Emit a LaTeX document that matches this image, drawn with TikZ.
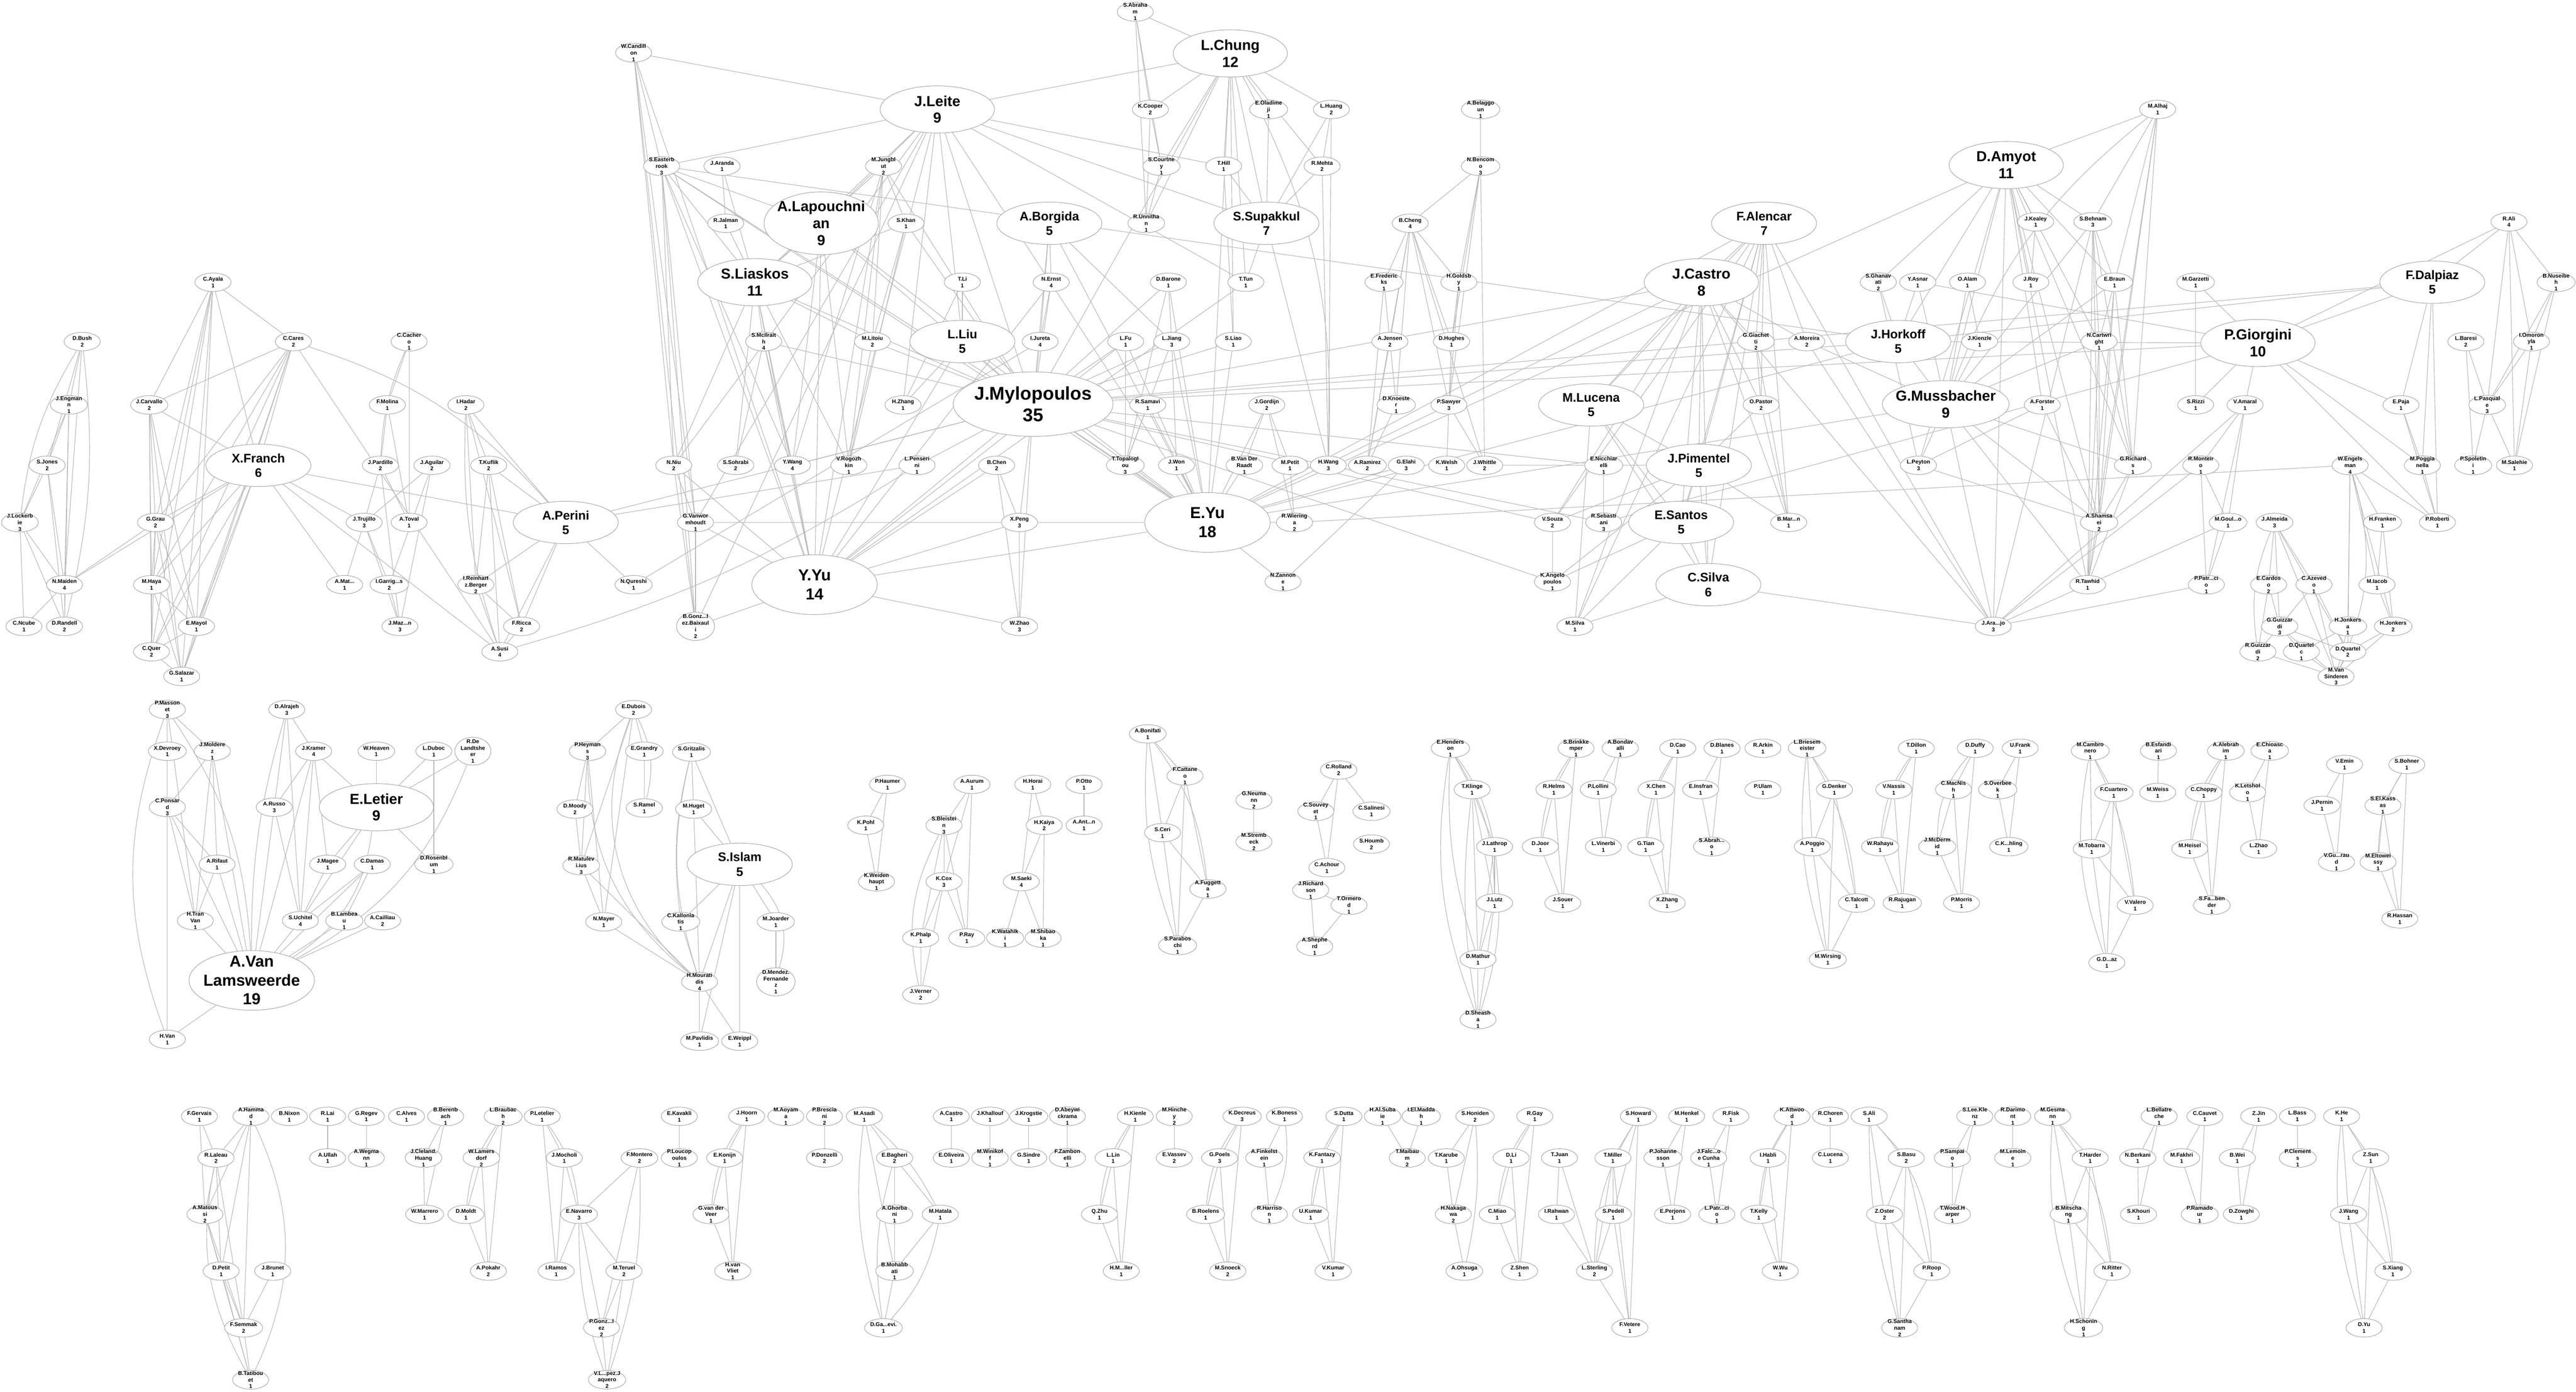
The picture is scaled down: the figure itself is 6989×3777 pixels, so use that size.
\documentclass[tikz,border=0pt]{standalone}
\usepackage{fontspec}
\setmainfont{Liberation Sans}
\usetikzlibrary{shapes.geometric,backgrounds}
\newcommand\nfsmall{\fontsize{4.25pt}{5.1pt}\selectfont\bfseries}
\newcommand\nfbiga{\fontsize{9.6pt}{11.2pt}\selectfont\bfseries}
\newcommand\nfbigb{\fontsize{11.2pt}{13pt}\selectfont\bfseries}
\newcommand\nfbigc{\fontsize{12.3pt}{14.5pt}\selectfont\bfseries}
\newcommand\nfbigd{\fontsize{14.2pt}{17pt}\selectfont\bfseries}
\tikzset{
  sm/.style={ellipse, draw=gray!70, fill=white, line width=0.4pt, align=center, font=\nfsmall,
    inner xsep=0pt, inner ysep=-1.5pt, minimum width=0.98cm, minimum height=0.5cm},
  bga/.style={sm, font=\nfbiga, inner xsep=-4pt, inner ysep=-3pt, minimum width=2.85cm, minimum height=1.15cm},
  bgb/.style={sm, font=\nfbigb, inner xsep=-4pt, inner ysep=-3pt, minimum width=3.1cm, minimum height=1.28cm},
  bgc/.style={sm, font=\nfbigc, inner xsep=-4pt, inner ysep=-3pt, minimum width=3.4cm, minimum height=1.62cm},
  bgd/.style={sm, font=\nfbigd, inner xsep=-4pt, inner ysep=-3pt, minimum width=4.33cm, minimum height=1.75cm},
  every edge/.style={draw, gray!55, line width=0.45pt}
}
\begin{document}
\begin{tikzpicture}[x=0.01cm,y=-0.01cm]
  \useasboundingbox (0,0) rectangle (6989,3777);
  % ---- main component, left part
  \node[sm] (cayala) at (578,766) {C.Ayala\\1};
  \node[sm] (dbush) at (223,927) {D.Bush\\2};
  \node[sm] (ccares) at (796,927) {C.Cares\\2};
  \node[sm] (ccachero) at (1110,927) {C.Cacher\\o\\1};
  \node[sm] (jengmann) at (187,1099) {J.Engman\\n\\1};
  \node[sm] (jcarvallo) at (405,1099) {J.Carvallo\\2};
  \node[sm] (fmolina) at (1051,1099) {F.Molina\\1};
  \node[sm] (ihadar) at (1264,1099) {I.Hadar\\2};
  \node[bga] (xfranch) at (701,1263) {X.Franch\\6};
  \node[sm] (sjones) at (128,1263) {S.Jones\\2};
  \node[sm] (jpardillo) at (1032,1263) {J.Pardillo\\2};
  \node[sm] (jaguilar) at (1172,1263) {J.Aguilar\\2};
  \node[sm] (tkuflik) at (1326,1263) {T.Kuflik\\2};
  \node[sm] (jlockerbie) at (54,1418) {J.Lockerb\\ie\\3};
  \node[sm] (ggrau) at (422,1418) {G.Grau\\2};
  \node[sm] (jtrujillo) at (988,1418) {J.Trujillo\\3};
  \node[sm] (atoval) at (1110,1418) {A.Toval\\1};
  \node[bga] (aperini) at (1535,1418) {A.Perini\\5};
  \node[sm] (nmaiden) at (175,1587) {N.Maiden\\4};
  \node[sm] (mhaya) at (411,1587) {M.Haya\\1};
  \node[sm] (amat) at (935,1587) {A.Mat...\\1};
  \node[sm] (igarrigos) at (1056,1587) {I.Garrig...s\\2};
  \node[sm] (ireinhartz) at (1291,1587) {I.Reinhart\\z.Berger\\2};
  \node[sm] (cncube) at (65,1700) {C.Ncube\\1};
  \node[sm] (drandell) at (175,1700) {D.Randell\\2};
  \node[sm] (emayol) at (533,1700) {E.Mayol\\1};
  \node[sm] (jmazon) at (1085,1700) {J.Maz...n\\3};
  \node[sm] (fricca) at (1415,1700) {F.Ricca\\2};
  \node[sm] (cquer) at (411,1769) {C.Quer\\2};
  \node[sm] (asusi) at (1356,1769) {A.Susi\\4};
  \node[sm] (gsalazar) at (493,1836) {G.Salazar\\1};
  % ---- main component, centre
  \node[sm] (wcandillon) at (1719,143) {W.Candill\\on\\1};
  \node[sm] (sabraham) at (3080,32) {S.Abraha\\m\\1};
  \node[bgb] (lchung) at (3338,145) {L.Chung\\12};
  \node[bgb] (jleite) at (2543,297) {J.Leite\\9};
  \node[sm] (kcooper) at (3121,297) {K.Cooper\\2};
  \node[sm] (eoladimeji) at (3442,297) {E.Oladime\\ji\\1};
  \node[sm] (seasterbrook) at (1795,451) {S.Easterb\\rook\\3};
  \node[sm] (jaranda) at (1959,451) {J.Aranda\\1};
  \node[sm] (mjungblut) at (2397,451) {M.Jungbl\\ut\\2};
  \node[sm] (scourtney) at (3151,451) {S.Courtne\\y\\1};
  \node[sm] (thill) at (3320,451) {T.Hill\\1};
  \node[bgb, minimum height=1.7cm] (alapouchnian) at (2228,606) {A.Lapouchni\\an\\9};
  \node[sm] (rjalman) at (1969,606) {R.Jalman\\1};
  \node[sm] (skhan) at (2458,606) {S.Khan\\1};
  \node[bga] (aborgida) at (2847,606) {A.Borgida\\5};
  \node[sm] (runnithan) at (3110,606) {R.Unnitha\\n\\1};
  \node[bga] (ssupakkul) at (3436,606) {S.Supakkul\\7};
  \node[bgb] (sliaskos) at (2048,766) {S.Liaskos\\11};
  \node[sm] (tli) at (2611,766) {T.Li\\1};
  \node[sm] (nernst) at (2852,766) {N.Ernst\\4};
  \node[sm] (dbarone) at (3170,766) {D.Barone\\1};
  \node[sm] (ttun) at (3380,766) {T.Tun\\1};
  \node[sm] (smcilraith) at (2072,927) {S.McIlrait\\h\\4};
  \node[sm] (mlitoiu) at (2367,927) {M.Litoiu\\2};
  \node[bga] (lliu) at (2611,927) {L.Liu\\5};
  \node[sm] (ijureta) at (2822,927) {I.Jureta\\4};
  \node[sm] (lfu) at (3054,927) {L.Fu\\1};
  \node[sm] (ljiang) at (3179,927) {L.Jiang\\3};
  \node[sm] (sliao) at (3346,927) {S.Liao\\1};
  \node[bgd] (jmylopoulos) at (2803,1097) {J.Mylopoulos\\35};
  \node[sm] (hzhang) at (2450,1099) {H.Zhang\\1};
  \node[sm] (rsamavi) at (3114,1099) {R.Samavi\\1};
  \node[sm] (jgordijn) at (3437,1099) {J.Gordijn\\2};
  \node[sm] (nniu) at (1828,1263) {N.Niu\\2};
  \node[sm] (ssohrabi) at (1996,1263) {S.Sohrabi\\2};
  \node[sm] (ywang) at (2150,1263) {Y.Wang\\4};
  \node[sm] (vrogozhkin) at (2303,1263) {V.Rogozh\\kin\\1};
  \node[sm] (lpenserini) at (2488,1263) {L.Penseri\\ni\\1};
  \node[sm] (bchen) at (2704,1263) {B.Chen\\2};
  \node[sm] (ttopaloglou) at (3053,1263) {T.Topalogl\\ou\\3};
  \node[sm] (jwon) at (3192,1263) {J.Won\\1};
  \node[sm] (bvanderraadt) at (3376,1263) {B.Van Der\\Raadt\\1};
  \node[sm] (gvanwormhoudt) at (1887,1418) {G.Vanwor\\mhoudt\\1};
  \node[sm] (xpeng) at (2766,1418) {X.Peng\\3};
  \node[bgc] (eyu) at (3276,1418) {E.Yu\\18};
  \node[sm] (nqureshi) at (1719,1587) {N.Qureshi\\1};
  \node[bgc] (yyu) at (2210,1587) {Y.Yu\\14};
  \node[sm] (bgonzalez) at (1887,1700) {B.Gonz...l\\ez.Baixaul\\i\\2};
  \node[sm] (wzhao) at (2766,1700) {W.Zhao\\3};
  % ---- main component, right of centre
  \node[sm] (lhuang) at (3612,297) {L.Huang\\2};
  \node[sm] (abelaggoun) at (4017,297) {A.Belaggo\\un\\1};
  \node[sm] (rmehta) at (3587,451) {R.Mehta\\2};
  \node[sm] (nbencomo) at (4017,451) {N.Bencom\\o\\3};
  \node[sm] (bcheng) at (3826,606) {B.Cheng\\4};
  \node[bga] (falencar) at (4786,606) {F.Alencar\\7};
  \node[sm] (efredericks) at (3755,766) {E.Frederic\\ks\\1};
  \node[sm] (hgoldsby) at (3958,766) {H.Goldsb\\y\\1};
  \node[bgb] (jcastro) at (4616,766) {J.Castro\\8};
  \node[sm] (sghanavati) at (5096,766) {S.Ghanav\\ati\\2};
  \node[sm] (ajensen) at (3771,927) {A.Jensen\\2};
  \node[sm] (dhughes) at (3938,927) {D.Hughes\\1};
  \node[sm] (ggiachetti) at (4764,927) {G.Giachet\\ti\\2};
  \node[sm] (amoreira) at (4902,927) {A.Moreira\\2};
  \node[bga] (jhorkoff) at (5150,927) {J.Horkoff\\5};
  \node[sm] (dknoester) at (3788,1099) {D.Knoeste\\r\\1};
  \node[sm] (psawyer) at (3931,1099) {P.Sawyer\\3};
  \node[bga] (mlucena) at (4317,1099) {M.Lucena\\5};
  \node[sm] (opastor) at (4778,1099) {O.Pastor\\2};
  \node[bgb] (gmussbacher) at (5279,1097) {G.Mussbacher\\9};
  \node[sm] (mpetit) at (3500,1263) {M.Petit\\1};
  \node[sm] (hwang) at (3604,1263) {H.Wang\\3};
  \node[sm] (aramirez) at (3710,1263) {A.Ramirez\\2};
  \node[sm] (gelahi) at (3815,1263) {G.Elahi\\3};
  \node[sm] (kwelsh) at (3925,1263) {K.Welsh\\1};
  \node[sm] (jwhittle) at (4028,1263) {J.Whittle\\2};
  \node[sm] (enicchiarelli) at (4351,1263) {E.Nicchiar\\elli\\1};
  \node[bga] (jpimentel) at (4609,1263) {J.Pimentel\\5};
  \node[sm] (rwieringa) at (3512,1418) {R.Wiering\\a\\2};
  \node[sm] (vsouza) at (4212,1418) {V.Souza\\2};
  \node[sm] (rsebastiani) at (4351,1418) {R.Sebasti\\ani\\3};
  \node[bga] (esantos) at (4561,1418) {E.Santos\\5};
  \node[sm] (bmarin) at (4853,1418) {B.Mar...n\\1};
  \node[sm] (nzannone) at (3481,1579) {N.Zannon\\e\\1};
  \node[sm] (kangelopoulos) at (4212,1579) {K.Angelo\\poulos\\1};
  \node[bga] (csilva) at (4635,1587) {C.Silva\\6};
  \node[sm] (msilva) at (4273,1700) {M.Silva\\1};
  % ---- main component, right part
  \node[sm] (malhaj) at (5854,297) {M.Alhaj\\1};
  \node[bgb] (damyot) at (5443,448) {D.Amyot\\11};
  \node[sm] (rali) at (6807,602) {R.Ali\\4};
  \node[sm] (jkealey) at (5523,602) {J.Kealey\\1};
  \node[sm] (sbehnam) at (5678,602) {S.Behnam\\3};
  \node[sm] (yasnar) at (5203,766) {Y.Asnar\\1};
  \node[sm] (oalam) at (5338,766) {O.Alam\\1};
  \node[sm] (jroy) at (5510,766) {J.Roy\\1};
  \node[sm] (ebraun) at (5737,766) {E.Braun\\1};
  \node[sm] (mgarzetti) at (5957,766) {M.Garzetti\\1};
  \node[bga] (fdalpiaz) at (6599,766) {F.Dalpiaz\\5};
  \node[sm] (bnuseibeh) at (6935,766) {B.Nuseibe\\h\\1};
  \node[sm] (jkienzle) at (5371,927) {J.Kienzle\\1};
  \node[sm] (ncartwright) at (5695,927) {N.Cartwri\\ght\\1};
  \node[bgb] (pgiorgini) at (6126,931) {P.Giorgini\\10};
  \node[sm] (lbaresi) at (6690,927) {L.Baresi\\2};
  \node[sm] (iomoronyla) at (6868,927) {I.Omoron\\yla\\1};
  \node[sm] (aforster) at (5541,1099) {A.Forster\\1};
  \node[sm] (srizzi) at (5957,1099) {S.Rizzi\\1};
  \node[sm] (vamaral) at (6091,1099) {V.Amaral\\1};
  \node[sm] (epaja) at (6514,1099) {E.Paja\\1};
  \node[sm] (lpasquale) at (6748,1099) {L.Pasqual\\e\\3};
  \node[sm] (lpeyton) at (5205,1263) {L.Peyton\\3};
  \node[sm] (grichards) at (5787,1263) {G.Richard\\s\\1};
  \node[sm] (rmonteiro) at (5971,1263) {R.Monteir\\o\\1};
  \node[sm] (wengelsman) at (6376,1263) {W.Engels\\man\\4};
  \node[sm] (mpoggianella) at (6572,1263) {M.Poggia\\nella\\1};
  \node[sm] (pspoletini) at (6710,1263) {P.Spoletin\\i\\1};
  \node[sm] (msalehie) at (6822,1263) {M.Salehie\\1};
  \node[sm] (ashamsaei) at (5695,1418) {A.Shamsa\\ei\\2};
  \node[sm] (mgoulao) at (6045,1418) {M.Goul...o\\1};
  \node[sm] (jalmeida) at (6171,1418) {J.Almeida\\3};
  \node[sm] (hfranken) at (6464,1418) {H.Franken\\1};
  \node[sm] (proberti) at (6613,1418) {P.Roberti\\1};
  \node[sm] (rtawhid) at (5664,1587) {R.Tawhid\\1};
  \node[sm] (ppatricio) at (5986,1587) {P.Patr...ci\\o\\1};
  \node[sm] (ecardoso) at (6155,1587) {E.Cardos\\o\\2};
  \node[sm] (cazevedo) at (6278,1587) {C.Azeved\\o\\1};
  \node[sm] (miacob) at (6449,1587) {M.Iacob\\1};
  \node[sm] (jaraujo) at (5408,1700) {J.Ara...jo\\3};
  \node[sm] (gguizzardi) at (6185,1700) {G.Guizzar\\di\\3};
  \node[sm] (hjonkersa) at (6370,1700) {H.Jonkers\\a\\1};
  \node[sm] (hjonkers) at (6493,1700) {H.Jonkers\\2};
  \node[sm] (rguizzardi) at (6126,1769) {R.Guizzar\\di\\2};
  \node[sm] (dquartelc) at (6244,1769) {D.Quartel\\c\\1};
  \node[sm] (dquartel) at (6370,1769) {D.Quartel\\2};
  \node[sm] (mvansinderen) at (6338,1836) {M.Van\\Sinderen\\3};
  % ---- middle band
  \node[sm] (pmassonet) at (454,1926) {P.Masson\\et\\3};
  \node[sm] (dalrajeh) at (778,1926) {D.Alrajeh\\3};
  \node[sm] (edubois) at (1719,1926) {E.Dubois\\2};
  \node[sm] (xdevroey) at (454,2039) {X.Devroey\\1};
  \node[sm] (jmolderez) at (576,2039) {J.Moldere\\z\\1};
  \node[sm] (jkramer) at (851,2039) {J.Kramer\\4};
  \node[sm] (wheaven) at (1021,2039) {W.Heaven\\1};
  \node[sm] (lduboc) at (1177,2039) {L.Duboc\\1};
  \node[sm] (rdelandtsheer) at (1283,2039) {R.De\\Landtshe\\er\\1};
  \node[sm] (pheymans) at (1594,2039) {P.Heyman\\s\\3};
  \node[sm] (egrandry) at (1748,2039) {E.Grandry\\1};
  \node[sm] (cponsard) at (454,2191) {C.Ponsar\\d\\3};
  \node[sm] (arusso) at (744,2191) {A.Russo\\3};
  \node[bgb] (eletier) at (1021,2191) {E.Letier\\9};
  \node[sm] (dmoody) at (1560,2196) {D.Moody\\2};
  \node[sm] (sramel) at (1748,2193) {S.Ramel\\1};
  \node[sm] (arifaut) at (589,2346) {A.Rifaut\\1};
  \node[sm] (jmagee) at (889,2346) {J.Magee\\1};
  \node[sm] (cdamas) at (1010,2346) {C.Damas\\1};
  \node[sm] (drosenblum) at (1177,2346) {D.Rosenbl\\um\\1};
  \node[sm] (rmatulevicius) at (1577,2349) {R.Matulev\\i.ius\\3};
  \node[sm] (htranvan) at (530,2499) {H.Tran\\Van\\1};
  \node[sm] (suchitel) at (815,2499) {S.Uchitel\\4};
  \node[sm] (blambeau) at (934,2499) {B.Lambea\\u\\1};
  \node[sm] (acailliau) at (1038,2499) {A.Cailliau\\2};
  \node[sm] (nmayer) at (1638,2502) {N.Mayer\\1};
  \node[bgc] (avanlamsweerde) at (683,2661) {A.Van\\Lamsweerde\\19};
  \node[sm] (hvan) at (454,2821) {H.Van\\1};
  \node[sm] (sgritzalis) at (1876,2041) {S.Gritzalis\\1};
  \node[sm] (mhuget) at (1882,2196) {M.Huget\\1};
  \node[bga] (sislam) at (2007,2346) {S.Islam\\5};
  \node[sm] (ckalloniatis) at (1847,2502) {C.Kallonia\\tis\\1};
  \node[sm] (mjoarder) at (2105,2502) {M.Joarder\\1};
  \node[sm] (hmouratidis) at (1898,2665) {H.Mourati\\dis\\4};
  \node[sm] (dmendez) at (2105,2665) {D.Mendez.\\Fernande\\z\\1};
  \node[sm] (mpavlidis) at (1898,2826) {M.Pavlidis\\1};
  \node[sm] (eweippl) at (2007,2826) {E.Weippl\\1};
  \node[sm] (phaumer) at (2408,2129) {P.Haumer\\1};
  \node[sm] (aaurum) at (2637,2129) {A.Aurum\\1};
  \node[sm] (hhorai) at (2802,2129) {H.Horai\\1};
  \node[sm] (potto) at (2941,2129) {P.Otto\\1};
  \node[sm] (kpohl) at (2349,2240) {K.Pohl\\1};
  \node[sm] (sbleistein) at (2561,2240) {S.Bleistei\\n\\3};
  \node[sm] (hkaiya) at (2833,2240) {H.Kaiya\\2};
  \node[sm] (aantn) at (2941,2240) {A.Ant...n\\1};
  \node[sm] (kweidenhaupt) at (2378,2393) {K.Weiden\\haupt\\1};
  \node[sm] (kcox) at (2561,2393) {K.Cox\\3};
  \node[sm] (msaeki) at (2771,2393) {M.Saeki\\4};
  \node[sm] (kphalp) at (2498,2546) {K.Phalp\\1};
  \node[sm] (pray) at (2623,2546) {P.Ray\\1};
  \node[sm] (kwatahiki) at (2727,2546) {K.Watahik\\i\\1};
  \node[sm] (mshibaoka) at (2830,2546) {M.Shibao\\ka\\1};
  \node[sm] (jverner) at (2498,2700) {J.Verner\\2};
  \node[sm] (abonifati) at (3114,1992) {A.Bonifati\\1};
  \node[sm] (fcattaneo) at (3215,2106) {F.Cattane\\o\\1};
  \node[sm] (gneumann) at (3402,2172) {G.Neuma\\nn\\2};
  \node[sm] (sceri) at (3154,2260) {S.Ceri\\1};
  \node[sm] (mstrembeck) at (3402,2285) {M.Stremb\\eck\\2};
  \node[sm] (afuggetta) at (3277,2413) {A.Fuggett\\a\\1};
  \node[sm] (sparaboschi) at (3195,2566) {S.Parabos\\chi\\1};
  \node[sm] (crolland) at (3632,2090) {C.Rolland\\2};
  \node[sm] (csouveyet) at (3570,2202) {C.Souvey\\et\\1};
  \node[sm] (csalinesi) at (3721,2202) {C.Salinesi\\1};
  \node[sm] (shoumb) at (3721,2291) {S.Houmb\\2};
  \node[sm] (cachour) at (3600,2355) {C.Achour\\1};
  \node[sm] (jrichardson) at (3556,2416) {J.Richard\\son\\1};
  \node[sm] (tormerod) at (3660,2457) {T.Ormero\\d\\1};
  \node[sm] (ashepherd) at (3567,2569) {A.Shephe\\rd\\1};
  \node[sm] (ehenderson) at (3935,2031) {E.Henders\\on\\1};
  \node[sm] (tklinge) at (3994,2143) {T.Klinge\\1};
  \node[sm] (jlathrop) at (4055,2298) {J.Lathrop\\1};
  \node[sm] (jlutz) at (4055,2451) {J.Lutz\\1};
  \node[sm] (dmathur) at (4010,2604) {D.Mathur\\1};
  \node[sm] (dsheasha) at (4010,2767) {D.Sheash\\a\\1};
  \node[sm] (sbrinkkemper) at (4276,2031) {S.Brinkke\\mper\\1};
  \node[sm] (abondavalli) at (4396,2031) {A.Bondav\\alli\\1};
  \node[sm] (dcao) at (4552,2031) {D.Cao\\1};
  \node[sm] (dblanes) at (4672,2031) {D.Blanes\\1};
  \node[sm] (rarkin) at (4783,2031) {R.Arkin\\1};
  \node[sm] (lbriesemeister) at (4903,2031) {L.Briesem\\eister\\1};
  \node[sm] (tdillon) at (5199,2031) {T.Dillon\\1};
  \node[sm] (rhelms) at (4216,2143) {R.Helms\\1};
  \node[sm] (plollini) at (4336,2143) {P.Lollini\\1};
  \node[sm] (xchen) at (4493,2143) {X.Chen\\1};
  \node[sm] (einsfran) at (4614,2143) {E.Insfran\\1};
  \node[sm] (pulam) at (4783,2143) {P.Ulam\\1};
  \node[sm] (gdenker) at (4977,2143) {G.Denker\\1};
  \node[sm] (vnassis) at (5138,2143) {V.Nassis\\1};
  \node[sm] (djoor) at (4179,2298) {D.Joor\\1};
  \node[sm] (lvinerbi) at (4350,2298) {L.Vinerbi\\1};
  \node[sm] (gtian) at (4465,2298) {G.Tian\\1};
  \node[sm] (sabraho) at (4644,2298) {S.Abrah...\\o\\1};
  \node[sm] (apoggio) at (4917,2298) {A.Poggio\\1};
  \node[sm] (wrahayu) at (5101,2298) {W.Rahayu\\1};
  \node[sm] (jsouer) at (4240,2451) {J.Souer\\1};
  \node[sm] (xzhang) at (4523,2451) {X.Zhang\\1};
  \node[sm] (ctalcott) at (5037,2451) {C.Talcott\\1};
  \node[sm] (rrajugan) at (5161,2451) {R.Rajugan\\1};
  \node[sm] (mwirsing) at (4959,2604) {M.Wirsing\\1};
  \node[sm] (dduffy) at (5359,2031) {D.Duffy\\1};
  \node[sm] (ufrank) at (5481,2031) {U.Frank\\1};
  \node[sm] (mcambronero) at (5671,2038) {M.Cambro\\nero\\1};
  \node[sm] (besfandiari) at (5856,2038) {B.Esfandi\\ari\\1};
  \node[sm] (aalebrahim) at (6039,2038) {A.Alebrah\\im\\1};
  \node[sm] (echioasca) at (6158,2038) {E.Chioasc\\a\\1};
  \node[sm] (vemin) at (6361,2075) {V.Emin\\1};
  \node[sm] (sbohner) at (6530,2075) {S.Bohner\\1};
  \node[sm] (cmacnish) at (5300,2143) {C.MacNis\\h\\1};
  \node[sm] (soverbeek) at (5420,2143) {S.Overbee\\k\\1};
  \node[sm] (fcuartero) at (5735,2151) {F.Cuartero\\1};
  \node[sm] (mweiss) at (5854,2151) {M.Weiss\\1};
  \node[sm] (cchoppy) at (5979,2151) {C.Choppy\\1};
  \node[sm] (kletsholo) at (6098,2151) {K.Letshol\\o\\1};
  \node[sm] (jpernin) at (6300,2186) {J.Pernin\\1};
  \node[sm] (selkassas) at (6465,2186) {S.El.Kass\\as\\1};
  \node[sm] (jmcdermid) at (5256,2298) {J.McDerm\\id\\1};
  \node[sm] (ckuhling) at (5450,2298) {C.K...hling\\1};
  \node[sm] (mtobarra) at (5675,2304) {M.Tobarra\\1};
  \node[sm] (mheisel) at (5941,2304) {M.Heisel\\1};
  \node[sm] (lzhao) at (6128,2304) {L.Zhao\\1};
  \node[sm] (vguiraud) at (6339,2340) {V.Gu...rau\\d\\1};
  \node[sm] (meltoweissy) at (6452,2340) {M.Eltowei\\ssy\\1};
  \node[sm] (pmorris) at (5322,2451) {P.Morris\\1};
  \node[sm] (vvalero) at (5793,2457) {V.Valero\\1};
  \node[sm] (sfassbender) at (6001,2457) {S.Fa...ben\\der\\1};
  \node[sm] (rhassan) at (6511,2494) {R.Hassan\\1};
  \node[sm] (gdiaz) at (5716,2613) {G.D...az\\1};
  % ---- bottom band
  \node[sm] (fgervais) at (541,3030) {F.Gervais\\1};
  \node[sm] (ahammad) at (681,3030) {A.Hamma\\d\\1};
  \node[sm] (bnixon) at (785,3030) {B.Nixon\\1};
  \node[sm] (rlai) at (889,3030) {R.Lai\\1};
  \node[sm] (gregev) at (994,3030) {G.Regev\\1};
  \node[sm] (calves) at (1103,3030) {C.Alves\\1};
  \node[sm] (bberenbach) at (1209,3030) {B.Berenb\\ach\\1};
  \node[sm] (lbraubach) at (1365,3030) {L.Braubac\\h\\2};
  \node[sm] (pletelier) at (1471,3030) {P.Letelier\\1};
  \node[sm] (rlaleau) at (586,3143) {R.Laleau\\2};
  \node[sm] (aullah) at (889,3143) {A.Ullah\\1};
  \node[sm] (awegmann) at (994,3143) {A.Wegma\\nn\\1};
  \node[sm] (jclelandhuang) at (1149,3143) {J.Cleland.\\Huang\\1};
  \node[sm] (wlamersdorf) at (1306,3143) {W.Lamers\\dorf\\2};
  \node[sm] (jmocholi) at (1531,3143) {J.Mocholi\\1};
  \node[sm] (fmontero) at (1735,3143) {F.Montero\\2};
  \node[sm] (amatoussi) at (556,3296) {A.Matous\\si\\2};
  \node[sm] (wmarrero) at (1152,3296) {W.Marrero\\1};
  \node[sm] (dmoldt) at (1264,3296) {D.Moldt\\1};
  \node[sm] (enavarro) at (1571,3296) {E.Navarro\\3};
  \node[sm] (dpetit) at (600,3450) {D.Petit\\1};
  \node[sm] (jbrunet) at (740,3450) {J.Brunet\\1};
  \node[sm] (apokahr) at (1325,3450) {A.Pokahr\\2};
  \node[sm] (iramos) at (1509,3450) {I.Ramos\\1};
  \node[sm] (mteruel) at (1693,3450) {M.Teruel\\2};
  \node[sm] (fsemmak) at (661,3604) {F.Semmak\\2};
  \node[sm] (pgonzalez) at (1632,3604) {P.Gonz...l\\ez\\2};
  \node[sm] (btatibouet) at (680,3745) {B.Tatibou\\et\\1};
  \node[sm] (vlopez) at (1647,3745) {V.L...pez.J\\aquero\\2};
  \node[sm] (ekavakli) at (1843,3030) {E.Kavakli\\1};
  \node[sm] (jhoorn) at (2026,3030) {J.Hoorn\\1};
  \node[sm] (maoyama) at (2132,3030) {M.Aoyam\\a\\1};
  \node[sm] (pbresciani) at (2237,3030) {P.Brescia\\ni\\2};
  \node[sm] (masadi) at (2345,3030) {M.Asadi\\1};
  \node[sm] (acastro) at (2581,3030) {A.Castro\\1};
  \node[sm] (jkhallouf) at (2686,3030) {J.Khallouf\\1};
  \node[sm] (jkrogstie) at (2791,3030) {J.Krogstie\\1};
  \node[sm] (dabeywickrama) at (2896,3030) {D.Abeywi\\ckrama\\1};
  \node[sm] (hkienle) at (3080,3030) {H.Kienle\\1};
  \node[sm] (mhinchey) at (3186,3030) {M.Hinche\\y\\2};
  \node[sm] (kdecreus) at (3370,3030) {K.Decreus\\3};
  \node[sm] (kboness) at (3485,3030) {K.Boness\\1};
  \node[sm] (ploucopoulos) at (1843,3143) {P.Loucop\\oulos\\1};
  \node[sm] (ekonijn) at (1966,3143) {E.Konijn\\1};
  \node[sm] (pdonzelli) at (2237,3143) {P.Donzelli\\2};
  \node[sm] (ebagheri) at (2427,3143) {E.Bagheri\\2};
  \node[sm] (eoliveira) at (2581,3143) {E.Oliveira\\1};
  \node[sm] (mwinikoff) at (2686,3143) {M.Winikof\\f\\1};
  \node[sm] (gsindre) at (2791,3143) {G.Sindre\\1};
  \node[sm] (fzambonelli) at (2896,3143) {F.Zambon\\elli\\1};
  \node[sm] (llin) at (3020,3143) {L.Lin\\1};
  \node[sm] (evassev) at (3186,3143) {E.Vassev\\2};
  \node[sm] (gpoels) at (3309,3143) {G.Poels\\3};
  \node[sm] (afinkelstein) at (3430,3143) {A.Finkelst\\ein\\1};
  \node[sm] (gvanderveer) at (1929,3296) {G.van der\\Veer\\1};
  \node[sm] (aghorbani) at (2427,3296) {A.Ghorba\\ni\\1};
  \node[sm] (mhatala) at (2551,3296) {M.Hatala\\1};
  \node[sm] (qzhu) at (2983,3296) {Q.Zhu\\1};
  \node[sm] (broelens) at (3271,3296) {B.Roelens\\1};
  \node[sm] (rharrison) at (3444,3296) {R.Harriso\\n\\1};
  \node[sm] (hvanvliet) at (1988,3450) {H.van\\Vliet\\1};
  \node[sm] (bmohabbati) at (2427,3450) {B.Mohabb\\ati\\1};
  \node[sm] (hmuller) at (3042,3450) {H.M...ller\\1};
  \node[sm] (msnoeck) at (3331,3450) {M.Snoeck\\2};
  \node[sm] (dgasevic) at (2397,3604) {D.Ga...evi.\\1};
  \node[sm] (sdutta) at (3646,3030) {S.Dutta\\1};
  \node[sm] (halsubaie) at (3751,3030) {H.Al.Suba\\ie\\1};
  \node[sm] (ielmaddah) at (3856,3030) {I.El.Madda\\h\\1};
  \node[sm] (shoniden) at (4002,3030) {S.Honiden\\2};
  \node[sm] (rgay) at (4164,3030) {R.Gay\\1};
  \node[sm] (showard) at (4445,3030) {S.Howard\\1};
  \node[sm] (mhenkel) at (4576,3030) {M.Henkel\\1};
  \node[sm] (rfisk) at (4696,3030) {R.Fisk\\1};
  \node[sm] (kattwood) at (4862,3030) {K.Attwoo\\d\\1};
  \node[sm] (rchoren) at (4966,3030) {R.Choren\\1};
  \node[sm] (sali) at (5071,3030) {S.Ali\\1};
  \node[sm] (kfantazy) at (3587,3143) {K.Fantazy\\1};
  \node[sm] (tmaibaum) at (3818,3143) {T.Maibau\\m\\2};
  \node[sm] (tkarube) at (3924,3143) {T.Karube\\1};
  \node[sm] (dli) at (4100,3143) {D.Li\\1};
  \node[sm] (tjuan) at (4231,3143) {T.Juan\\1};
  \node[sm] (tmiller) at (4376,3143) {T.Miller\\1};
  \node[sm] (pjohannesson) at (4512,3143) {P.Johanne\\sson\\1};
  \node[sm] (jfalcao) at (4636,3143) {J.Falc...o\\e Cunha\\1};
  \node[sm] (ihabli) at (4797,3143) {I.Habli\\1};
  \node[sm] (clucena) at (4966,3143) {C.Lucena\\1};
  \node[sm] (sbasu) at (5172,3143) {S.Basu\\2};
  \node[sm] (ukumar) at (3556,3296) {U.Kumar\\1};
  \node[sm] (hnakagawa) at (3943,3296) {H.Nakaga\\wa\\2};
  \node[sm] (cmiao) at (4062,3296) {C.Miao\\1};
  \node[sm] (irahwan) at (4223,3296) {I.Rahwan\\1};
  \node[sm] (spedell) at (4377,3296) {S.Pedell\\1};
  \node[sm] (eperjons) at (4538,3296) {E.Perjons\\1};
  \node[sm] (lpatricio) at (4658,3296) {L.Patr...ci\\o\\1};
  \node[sm] (tkelly) at (4772,3296) {T.Kelly\\1};
  \node[sm] (zoster) at (5113,3296) {Z.Oster\\2};
  \node[sm] (vkumar) at (3617,3450) {V.Kumar\\1};
  \node[sm] (aohsuga) at (3973,3450) {A.Ohsuga\\1};
  \node[sm] (zshen) at (4123,3450) {Z.Shen\\1};
  \node[sm] (lsterling) at (4326,3450) {L.Sterling\\2};
  \node[sm] (wwu) at (4830,3450) {W.Wu\\1};
  \node[sm] (proop) at (5241,3450) {P.Roop\\1};
  \node[sm] (fvetere) at (4422,3604) {F.Vetere\\1};
  \node[sm] (gsanthanam) at (5154,3604) {G.Santha\\nam\\2};
  \node[sm] (sleeklenz) at (5358,3030) {S.Lee.Kle\\nz\\1};
  \node[sm] (rdarimont) at (5461,3030) {R.Darimo\\nt\\1};
  \node[sm] (mgesmann) at (5569,3030) {M.Gesma\\nn\\1};
  \node[sm] (lbellatreche) at (5858,3030) {L.Bellatre\\che\\1};
  \node[sm] (ccauvet) at (5982,3030) {C.Cauvet\\1};
  \node[sm] (zjin) at (6128,3030) {Z.Jin\\1};
  \node[sm] (lbass) at (6233,3030) {L.Bass\\1};
  \node[sm] (khe) at (6353,3030) {K.He\\1};
  \node[sm] (psampaio) at (5297,3143) {P.Sampai\\o\\1};
  \node[sm] (mlemoine) at (5461,3143) {M.Lemoin\\e\\1};
  \node[sm] (tharder) at (5671,3143) {T.Harder\\1};
  \node[sm] (nberkani) at (5800,3143) {N.Berkani\\1};
  \node[sm] (mfakhri) at (5919,3143) {M.Fakhri\\1};
  \node[sm] (bwei) at (6070,3143) {B.Wei\\1};
  \node[sm] (pclements) at (6234,3143) {P.Clement\\s\\1};
  \node[sm] (zsun) at (6432,3143) {Z.Sun\\1};
  \node[sm] (twoodharper) at (5297,3296) {T.Wood.H\\arper\\1};
  \node[sm] (bmitschang) at (5612,3296) {B.Mitscha\\ng\\1};
  \node[sm] (skhouri) at (5802,3296) {S.Khouri\\1};
  \node[sm] (pramadour) at (5968,3296) {P.Ramado\\ur\\1};
  \node[sm] (dzowghi) at (6081,3296) {D.Zowghi\\1};
  \node[sm] (jwang) at (6372,3296) {J.Wang\\1};
  \node[sm] (nritter) at (5730,3450) {N.Ritter\\1};
  \node[sm] (sxiang) at (6492,3450) {S.Xiang\\1};
  \node[sm] (hschoning) at (5653,3604) {H.Schonin\\g\\1};
  \node[sm] (dyu) at (6414,3604) {D.Yu\\1};

  \begin{scope}[on background layer]
  \fill[white] (0,0) rectangle (6989,3777);
  % ---- main component, left
  \path (cayala) edge (ccares) edge (jcarvallo) edge (ggrau) edge (mhaya) edge (emayol) edge (cquer) edge (gsalazar) edge (xfranch);
  \path (dbush) edge (jengmann) edge (sjones) edge[bend right=12] (jlockerbie) edge (nmaiden) edge[bend left=10] (drandell);
  \path (ccares) edge (jcarvallo) edge (ggrau) edge (xfranch) edge (mhaya) edge (emayol) edge (cquer) edge (gsalazar) edge[bend left=15] (aperini) edge (asusi);
  \path (ccachero) edge (fmolina) edge[bend right=10] (jpardillo) edge (atoval);
  \path (jengmann) edge (sjones) edge (jlockerbie) edge (nmaiden) edge (drandell);
  \path (jcarvallo) edge (xfranch) edge (ggrau) edge (mhaya) edge (emayol) edge (cquer) edge (gsalazar);
  \path (fmolina) edge (jpardillo) edge (atoval);
  \path (ihadar) edge (tkuflik) edge (aperini) edge (ireinhartz) edge (fricca) edge[bend right=10] (asusi);
  \path (xfranch) edge (ggrau) edge (nmaiden) edge (mhaya) edge (emayol) edge (cquer) edge (gsalazar) edge (jtrujillo) edge (amat) edge (aperini) edge (asusi);
  \path (sjones) edge (jlockerbie) edge (nmaiden) edge (drandell);
  \path (jpardillo) edge (jtrujillo) edge (atoval) edge (jmazon);
  \path (jaguilar) edge (jtrujillo) edge (igarrigos) edge (jmazon);
  \path (tkuflik) edge (aperini) edge (ireinhartz) edge (fricca) edge (asusi);
  \path (jlockerbie) edge (nmaiden) edge (cncube) edge (drandell);
  \path (ggrau) edge (nmaiden) edge (mhaya) edge (emayol) edge (cquer) edge (gsalazar);
  \path (jtrujillo) edge (amat) edge (igarrigos) edge (jmazon);
  \path (aperini) edge (ireinhartz) edge (fricca) edge (asusi) edge (nqureshi) edge (lpenserini) edge (jmylopoulos);
  \path (nmaiden) edge (cncube) edge (drandell);
  \path (mhaya) edge (emayol) edge (cquer) edge (gsalazar);
  \path (igarrigos) edge (jmazon);
  \path (ireinhartz) edge (fricca) edge (asusi);
  \path (emayol) edge (cquer) edge (gsalazar);
  \path (fricca) edge (asusi);
  \path (cquer) edge (gsalazar);
  \path (asusi) edge[bend right=8] (lpenserini);
  \path (nqureshi) edge (ijureta);
  % ---- main component, centre
  \path (wcandillon) edge (jleite) edge (seasterbrook) edge (nniu) edge (gvanwormhoudt) edge (bgonzalez) edge (yyu);
  \path (sabraham) edge (lchung) edge (kcooper) edge (scourtney) edge (runnithan);
  \path (lchung) edge (kcooper) edge (eoladimeji) edge (lhuang) edge (rmehta) edge (ssupakkul) edge (thill) edge (scourtney) edge (runnithan) edge (ttun) edge (jmylopoulos) edge (eyu) edge (jleite) edge[bend left=15] (hwang) edge (sliao);
  \path (jleite) edge (seasterbrook) edge (sliaskos) edge (alapouchnian) edge (jmylopoulos) edge (yyu) edge (eyu) edge (ssupakkul) edge (thill) edge (ttun) edge (nniu) edge (bgonzalez) edge (lliu) edge (hzhang) edge (gvanwormhoudt);
  \path (kcooper) edge (scourtney) edge (runnithan);
  \path (scourtney) edge (runnithan);
  \path (thill) edge (ssupakkul) edge (sliao);
  \path (eoladimeji) edge (ssupakkul);
  \path (ssupakkul) edge (ttun) edge (lhuang) edge (rmehta) edge (hwang);
  \path (seasterbrook) edge (sliaskos) edge (alapouchnian) edge (nniu) edge (yyu) edge (jmylopoulos) edge (ywang) edge (eyu) edge (gvanwormhoudt) edge (bgonzalez) edge (jhorkoff);
  \path (jaranda) edge (rjalman) edge (sliaskos);
  \path (rjalman) edge (sliaskos);
  \path (mjungblut) edge (skhan) edge (sliaskos) edge (mlitoiu) edge (vrogozhkin) edge (ywang) edge (jmylopoulos) edge (yyu);
  \path (skhan) edge (sliaskos) edge (mlitoiu) edge (jmylopoulos) edge (vrogozhkin);
  \path (alapouchnian) edge (sliaskos) edge (jmylopoulos) edge (ywang) edge (yyu) edge (eyu) edge (vrogozhkin);
  \path (sliaskos) edge (smcilraith) edge (ssohrabi) edge (ywang) edge (mlitoiu) edge (jmylopoulos) edge (yyu) edge (vrogozhkin) edge (nniu);
  \path (smcilraith) edge (ssohrabi) edge (ywang) edge (jmylopoulos) edge (yyu);
  \path (mlitoiu) edge (jmylopoulos) edge (vrogozhkin);
  \path (tli) edge (lliu) edge (hzhang);
  \path (lliu) edge (jmylopoulos) edge (hzhang) edge (eyu) edge (yyu);
  \path (aborgida) edge (jmylopoulos) edge (nernst) edge (ijureta) edge (ljiang) edge (eyu);
  \path (nernst) edge (ijureta) edge (jmylopoulos) edge (yyu);
  \path (ijureta) edge (jmylopoulos);
  \path (dbarone) edge (ljiang) edge (jmylopoulos) edge (eyu) edge (ttopaloglou);
  \path (lfu) edge (jmylopoulos) edge (ttopaloglou) edge (yyu) edge (eyu);
  \path (ljiang) edge (jmylopoulos) edge (ttopaloglou) edge (jwon) edge (eyu);
  \path (sliao) edge (eyu) edge (jmylopoulos);
  \path (ttun) edge (yyu);
  \path (rsamavi) edge (ttopaloglou) edge (eyu);
  \path (nniu) edge (yyu) edge (gvanwormhoudt) edge (bgonzalez);
  \path (ywang) edge (jmylopoulos) edge (yyu);
  \path (lpenserini) edge (jmylopoulos);
  \path (bchen) edge (xpeng) edge (wzhao) edge (yyu);
  \path (ttopaloglou) edge (eyu) edge (jmylopoulos);
  \path (jwon) edge (eyu);
  \path (bvanderraadt) edge (eyu);
  \path (gvanwormhoudt) edge (bgonzalez) edge (yyu) edge (eyu);
  \path (xpeng) edge (wzhao) edge (yyu) edge (jmylopoulos);
  \path (yyu) edge (jmylopoulos) edge (eyu) edge (bgonzalez) edge (wzhao);
  \path (wzhao) edge (jmylopoulos);
  \path (jmylopoulos) edge (eyu) edge (jcastro) edge (jhorkoff) edge (pgiorgini) edge (rsebastiani) edge (vsouza) edge (kangelopoulos) edge (fdalpiaz) edge (enicchiarelli);
  % ---- main component, right of centre
  \path (lhuang) edge (rmehta) edge (hwang);
  \path (rmehta) edge (hwang);
  \path (abelaggoun) edge (nbencomo);
  \path (nbencomo) edge (bcheng) edge (psawyer) edge (hgoldsby) edge (jwhittle) edge (dhughes);
  \path (bcheng) edge (efredericks) edge (ajensen) edge (hgoldsby) edge (dhughes) edge (psawyer) edge (jwhittle) edge (aramirez) edge (dknoester);
  \path (efredericks) edge (ajensen) edge (aramirez);
  \path (hgoldsby) edge (dhughes) edge (psawyer);
  \path (ajensen) edge (dknoester) edge (aramirez);
  \path (dhughes) edge (psawyer);
  \path (dknoester) edge (aramirez);
  \path (psawyer) edge (kwelsh) edge (jwhittle);
  \path (jwhittle) edge (jpimentel);
  \path (gelahi) edge (nzannone) edge (eyu);
  \path (mpetit) edge (jgordijn) edge (rwieringa);
  \path (jgordijn) edge (rwieringa) edge (eyu) edge (bvanderraadt);
  \path (rwieringa) edge (eyu) edge (wengelsman);
  \path (nzannone) edge (eyu);
  \path (falencar) edge (jcastro) edge (jpimentel) edge (esantos) edge (csilva) edge (mlucena) edge (ggiachetti) edge (opastor) edge (amoreira) edge (bmarin) edge (msilva) edge (vsouza) edge (jaraujo) edge (eyu);
  \path (jcastro) edge (jpimentel) edge (esantos) edge (csilva) edge (mlucena) edge (ggiachetti) edge (opastor) edge (amoreira) edge (bmarin) edge (eyu) edge (vsouza) edge (msilva) edge (jaraujo);
  \path (mlucena) edge (jpimentel) edge (esantos) edge (csilva) edge (msilva);
  \path (jpimentel) edge (esantos) edge (csilva) edge (vsouza) edge (opastor) edge (bmarin) edge (kangelopoulos);
  \path (esantos) edge (csilva) edge (msilva) edge (kangelopoulos);
  \path (csilva) edge (msilva) edge (jaraujo);
  \path (ggiachetti) edge (opastor) edge (bmarin);
  \path (opastor) edge (bmarin);
  \path (amoreira) edge (jaraujo) edge (gmussbacher);
  \path (enicchiarelli) edge (rsebastiani);
  \path (rsebastiani) edge (pgiorgini);
  \path (vsouza) edge (kangelopoulos);
  \path (sghanavati) edge (damyot) edge (lpeyton) edge (jhorkoff);
  \path (jhorkoff) edge (damyot) edge (eyu) edge (gmussbacher) edge (pgiorgini) edge (fdalpiaz) edge (yasnar);
  % ---- main component, right
  \path (malhaj) edge (damyot) edge (sbehnam) edge (ebraun) edge (ashamsaei) edge (grichards) edge[bend right=15] (gmussbacher) edge (rtawhid);
  \path (damyot) edge (jkealey) edge (jroy) edge (sbehnam) edge (ebraun) edge (gmussbacher) edge (lpeyton) edge (aforster) edge (ashamsaei) edge (rtawhid) edge (grichards) edge (ncartwright) edge (jaraujo) edge (eyu);
  \path (jkealey) edge (jroy);
  \path (sbehnam) edge (ebraun) edge (ncartwright) edge (grichards) edge (ashamsaei) edge (rtawhid) edge (gmussbacher) edge (jaraujo);
  \path (ebraun) edge (ncartwright) edge (grichards) edge (ashamsaei) edge (rtawhid) edge (gmussbacher);
  \path (yasnar) edge (pgiorgini) edge (gmussbacher);
  \path (oalam) edge (jkienzle) edge (gmussbacher);
  \path (jkienzle) edge (gmussbacher);
  \path (ncartwright) edge (gmussbacher) edge (ashamsaei) edge (rtawhid) edge (grichards);
  \path (aforster) edge (lpeyton) edge (ashamsaei);
  \path (lpeyton) edge (gmussbacher) edge (ashamsaei);
  \path (gmussbacher) edge (grichards) edge (ashamsaei) edge (rtawhid) edge (jaraujo) edge (eyu);
  \path (grichards) edge (ashamsaei) edge (rtawhid);
  \path (ashamsaei) edge (rtawhid);
  \path (jaraujo) edge (vamaral) edge (rmonteiro) edge (mgoulao) edge (ppatricio);
  \path (mgarzetti) edge (srizzi) edge (pgiorgini);
  \path (pgiorgini) edge (srizzi) edge (vamaral) edge (fdalpiaz) edge (rali) edge (epaja) edge (mpoggianella) edge (proberti);
  \path (vamaral) edge (rmonteiro) edge (mgoulao) edge (ppatricio);
  \path (rmonteiro) edge (mgoulao) edge (ppatricio);
  \path (mgoulao) edge (ppatricio);
  \path (fdalpiaz) edge (rali) edge (epaja) edge (mpoggianella) edge (proberti);
  \path (rali) edge (bnuseibeh) edge (iomoronyla) edge (lpasquale) edge (msalehie);
  \path (bnuseibeh) edge (iomoronyla) edge (lpasquale) edge (msalehie);
  \path (iomoronyla) edge (lpasquale) edge (msalehie);
  \path (lbaresi) edge (lpasquale) edge (pspoletini);
  \path (lpasquale) edge (pspoletini) edge (msalehie);
  \path (epaja) edge (mpoggianella) edge (proberti);
  \path (mpoggianella) edge (proberti);
  \path (wengelsman) edge (hfranken) edge (miacob) edge (hjonkersa) edge (hjonkers) edge (dquartel) edge[bend left=20] (mvansinderen) edge (proberti);
  \path (jalmeida) edge (ecardoso) edge (cazevedo) edge (gguizzardi) edge[bend right=15] (rguizzardi) edge (dquartel) edge (mvansinderen);
  \path (ecardoso) edge (gguizzardi) edge (rguizzardi);
  \path (cazevedo) edge (gguizzardi) edge (dquartel) edge (mvansinderen);
  \path (gguizzardi) edge (rguizzardi) edge (dquartel) edge (mvansinderen) edge (dquartelc);
  \path (hfranken) edge (miacob) edge (hjonkers);
  \path (miacob) edge (hjonkers);
  \path (hjonkersa) edge (dquartelc) edge (mvansinderen);
  \path (hjonkers) edge (dquartel) edge (mvansinderen);
  \path (dquartelc) edge (mvansinderen);
  \path (dquartel) edge (mvansinderen);
  \path (rguizzardi) edge (mvansinderen);
  % ---- middle band
  \path (pmassonet) edge (cponsard) edge (jmolderez) edge (htranvan) edge[bend left=15] (avanlamsweerde) edge[bend right=20] (hvan);
  \path (xdevroey) edge (cponsard);
  \path (jmolderez) edge (cponsard) edge (arifaut) edge (htranvan) edge (avanlamsweerde);
  \path (cponsard) edge (arifaut) edge (htranvan) edge (hvan) edge (avanlamsweerde);
  \path (arifaut) edge (htranvan) edge (avanlamsweerde);
  \path (htranvan) edge (avanlamsweerde);
  \path (dalrajeh) edge (jkramer) edge (arusso) edge (suchitel) edge[bend right=8] (avanlamsweerde);
  \path (jkramer) edge (eletier) edge (arusso) edge (suchitel) edge (jmagee) edge (avanlamsweerde);
  \path (wheaven) edge (eletier);
  \path (lduboc) edge (eletier) edge (drosenblum);
  \path (rdelandtsheer) edge (eletier) edge[bend left=20] (avanlamsweerde);
  \path (arusso) edge (suchitel) edge (avanlamsweerde);
  \path (eletier) edge (jmagee) edge (suchitel) edge (drosenblum) edge[bend left=25] (avanlamsweerde);
  \path (jmagee) edge (suchitel);
  \path (cdamas) edge (suchitel) edge (blambeau) edge (avanlamsweerde);
  \path (suchitel) edge (avanlamsweerde);
  \path (blambeau) edge (avanlamsweerde);
  \path (acailliau) edge (avanlamsweerde);
  \path (avanlamsweerde) edge (hvan);
  \path (edubois) edge (pheymans) edge (egrandry) edge (rmatulevicius) edge (nmayer) edge[bend right=35] (hmouratidis) edge[bend left=20] (sramel);
  \path (pheymans) edge (dmoody) edge (rmatulevicius) edge (nmayer) edge[bend right=25] (hmouratidis);
  \path (dmoody) edge (rmatulevicius);
  \path (egrandry) edge (sramel);
  \path (rmatulevicius) edge (nmayer) edge (hmouratidis);
  \path (nmayer) edge (hmouratidis);
  \path (sgritzalis) edge (mhuget) edge (sislam) edge[bend right=10] (ckalloniatis) edge[bend right=15] (hmouratidis);
  \path (mhuget) edge (sislam) edge (hmouratidis);
  \path (sislam) edge (ckalloniatis) edge (hmouratidis) edge (mjoarder) edge[bend left=30] (dmendez) edge (mpavlidis) edge (eweippl);
  \path (ckalloniatis) edge (hmouratidis);
  \path (mjoarder) edge (dmendez);
  \path (hmouratidis) edge (mpavlidis) edge (eweippl);
  \path (phaumer) edge (kpohl) edge (kweidenhaupt);
  \path (kpohl) edge (kweidenhaupt);
  \path (aaurum) edge (sbleistein) edge (kcox) edge (pray);
  \path (sbleistein) edge (kcox) edge (kphalp) edge (pray) edge[bend right=20] (jverner);
  \path (kcox) edge (kphalp) edge (pray) edge (jverner);
  \path (kphalp) edge (jverner);
  \path (hhorai) edge (hkaiya) edge (msaeki);
  \path (hkaiya) edge (msaeki) edge (mshibaoka);
  \path (msaeki) edge (kwatahiki) edge (mshibaoka);
  \path (potto) edge (aantn);
  \path (abonifati) edge (fcattaneo) edge (sceri) edge[bend left=15] (afuggetta) edge[bend right=12] (sparaboschi);
  \path (fcattaneo) edge (sceri) edge (afuggetta) edge (sparaboschi);
  \path (sceri) edge (afuggetta) edge (sparaboschi);
  \path (afuggetta) edge (sparaboschi);
  \path (gneumann) edge (mstrembeck);
  \path (crolland) edge (csouveyet) edge (csalinesi) edge (cachour);
  \path (csouveyet) edge (cachour);
  \path (jrichardson) edge (tormerod) edge (ashepherd);
  \path (tormerod) edge (ashepherd);
  \path (ehenderson) edge (tklinge) edge[bend left=12] (jlathrop) edge[bend left=15] (jlutz) edge[bend right=10] (dmathur) edge[bend right=15] (dsheasha);
  \path (tklinge) edge (jlathrop) edge (jlutz) edge (dmathur) edge[bend right=8] (dsheasha);
  \path (jlathrop) edge (jlutz) edge (dmathur) edge[bend left=12] (dsheasha);
  \path (jlutz) edge (dmathur) edge (dsheasha);
  \path (dmathur) edge (dsheasha);
  \path (sbrinkkemper) edge (rhelms) edge[bend right=15] (djoor) edge (jsouer);
  \path (rhelms) edge (djoor) edge (jsouer);
  \path (djoor) edge (jsouer);
  \path (abondavalli) edge (plollini) edge (lvinerbi);
  \path (plollini) edge (lvinerbi);
  \path (dcao) edge (xchen) edge[bend right=15] (gtian) edge (xzhang);
  \path (xchen) edge (gtian) edge (xzhang);
  \path (gtian) edge (xzhang);
  \path (dblanes) edge (einsfran) edge (sabraho);
  \path (einsfran) edge (sabraho);
  \path (lbriesemeister) edge (gdenker) edge (apoggio) edge[bend left=12] (ctalcott) edge[bend right=12] (mwirsing);
  \path (gdenker) edge (apoggio) edge (ctalcott) edge (mwirsing);
  \path (apoggio) edge (ctalcott) edge (mwirsing);
  \path (ctalcott) edge (mwirsing);
  \path (tdillon) edge (vnassis) edge[bend right=15] (wrahayu) edge (rrajugan);
  \path (vnassis) edge (wrahayu) edge (rrajugan);
  \path (wrahayu) edge (rrajugan);
  \path (dduffy) edge (cmacnish) edge (pmorris) edge[bend right=20] (jmcdermid);
  \path (cmacnish) edge (jmcdermid) edge (pmorris);
  \path (jmcdermid) edge (pmorris);
  \path (ufrank) edge (soverbeek) edge (ckuhling);
  \path (soverbeek) edge (ckuhling);
  \path (mcambronero) edge (fcuartero) edge (mtobarra) edge[bend left=10] (vvalero) edge[bend right=15] (gdiaz);
  \path (fcuartero) edge (mtobarra) edge (vvalero) edge (gdiaz);
  \path (mtobarra) edge (vvalero) edge (gdiaz);
  \path (vvalero) edge (gdiaz);
  \path (besfandiari) edge (mweiss);
  \path (aalebrahim) edge (cchoppy) edge[bend right=15] (mheisel) edge (sfassbender);
  \path (cchoppy) edge (mheisel) edge (sfassbender);
  \path (mheisel) edge (sfassbender);
  \path (echioasca) edge (kletsholo) edge (lzhao);
  \path (kletsholo) edge (lzhao);
  \path (vemin) edge (jpernin) edge (vguiraud);
  \path (jpernin) edge (vguiraud);
  \path (sbohner) edge (selkassas) edge[bend right=15] (meltoweissy) edge (rhassan);
  \path (selkassas) edge (meltoweissy) edge (rhassan);
  \path (meltoweissy) edge (rhassan);
  % ---- bottom band
  \path (fgervais) edge (rlaleau) edge (amatoussi);
  \path (ahammad) edge (rlaleau) edge (amatoussi) edge (dpetit) edge (fsemmak) edge[bend left=25] (btatibouet);
  \path (rlaleau) edge (amatoussi) edge (dpetit) edge (fsemmak) edge[bend right=20] (btatibouet);
  \path (amatoussi) edge (dpetit) edge (fsemmak) edge (btatibouet);
  \path (dpetit) edge (fsemmak) edge (btatibouet);
  \path (jbrunet) edge (fsemmak);
  \path (fsemmak) edge (btatibouet);
  \path (rlai) edge (aullah);
  \path (gregev) edge (awegmann);
  \path (bberenbach) edge (jclelandhuang) edge (wmarrero);
  \path (jclelandhuang) edge (wmarrero);
  \path (lbraubach) edge (wlamersdorf) edge[bend right=15] (dmoldt) edge (apokahr);
  \path (wlamersdorf) edge (dmoldt) edge (apokahr);
  \path (dmoldt) edge (apokahr);
  \path (pletelier) edge (jmocholi) edge (iramos) edge[bend left=15] (enavarro);
  \path (jmocholi) edge (enavarro) edge (iramos);
  \path (enavarro) edge (iramos) edge (mteruel) edge (pgonzalez) edge[bend right=10] (vlopez);
  \path (fmontero) edge (enavarro) edge (pgonzalez) edge[bend left=10] (vlopez);
  \path (mteruel) edge (pgonzalez) edge (vlopez);
  \path (pgonzalez) edge (vlopez);
  \path (ekavakli) edge (ploucopoulos);
  \path (jhoorn) edge (ekonijn) edge[bend right=15] (gvanderveer) edge (hvanvliet);
  \path (ekonijn) edge (gvanderveer) edge (hvanvliet);
  \path (gvanderveer) edge (hvanvliet);
  \path (pbresciani) edge (pdonzelli);
  \path (masadi) edge (ebagheri) edge[bend left=10] (mhatala) edge (bmohabbati) edge[bend right=12] (dgasevic);
  \path (ebagheri) edge (aghorbani) edge (mhatala) edge (bmohabbati) edge[bend right=12] (dgasevic);
  \path (mhatala) edge (bmohabbati) edge[bend left=15] (dgasevic);
  \path (bmohabbati) edge (dgasevic);
  \path (acastro) edge (eoliveira);
  \path (jkhallouf) edge (mwinikoff);
  \path (jkrogstie) edge (gsindre);
  \path (dabeywickrama) edge (fzambonelli);
  \path (hkienle) edge (llin) edge[bend right=15] (qzhu) edge (hmuller);
  \path (llin) edge (qzhu) edge (hmuller);
  \path (qzhu) edge (hmuller);
  \path (mhinchey) edge (evassev);
  \path (kdecreus) edge (gpoels) edge[bend right=15] (broelens) edge (msnoeck);
  \path (gpoels) edge (broelens) edge (msnoeck);
  \path (broelens) edge (msnoeck);
  \path (kboness) edge (afinkelstein) edge[bend left=15] (rharrison);
  \path (afinkelstein) edge (rharrison);
  \path (sdutta) edge (kfantazy) edge[bend right=15] (ukumar) edge (vkumar);
  \path (kfantazy) edge (ukumar) edge (vkumar);
  \path (ukumar) edge (vkumar);
  \path (halsubaie) edge (tmaibaum);
  \path (ielmaddah) edge (tmaibaum);
  \path (shoniden) edge (tkarube) edge (hnakagawa) edge[bend left=8] (aohsuga);
  \path (tkarube) edge (hnakagawa);
  \path (hnakagawa) edge (aohsuga);
  \path (rgay) edge (dli) edge[bend right=15] (cmiao) edge (zshen);
  \path (dli) edge (cmiao) edge (zshen);
  \path (cmiao) edge (zshen);
  \path (tjuan) edge (irahwan) edge (lsterling);
  \path (irahwan) edge (lsterling);
  \path (showard) edge (tmiller) edge[bend right=15] (lsterling) edge (spedell) edge (fvetere);
  \path (tmiller) edge (spedell) edge (lsterling) edge (fvetere);
  \path (spedell) edge (lsterling) edge (fvetere);
  \path (lsterling) edge (fvetere);
  \path (mhenkel) edge (pjohannesson) edge (eperjons);
  \path (pjohannesson) edge (eperjons);
  \path (rfisk) edge (jfalcao) edge (lpatricio);
  \path (jfalcao) edge (lpatricio);
  \path (kattwood) edge (ihabli) edge[bend right=15] (tkelly) edge (wwu);
  \path (ihabli) edge (tkelly) edge (wwu);
  \path (tkelly) edge (wwu);
  \path (rchoren) edge (clucena);
  \path (sali) edge (sbasu) edge (zoster) edge[bend right=8] (gsanthanam) edge[bend left=20] (proop);
  \path (sbasu) edge (zoster) edge (gsanthanam) edge (proop);
  \path (zoster) edge (proop) edge (gsanthanam);
  \path (proop) edge (gsanthanam);
  \path (sleeklenz) edge (psampaio) edge (twoodharper);
  \path (psampaio) edge (twoodharper);
  \path (rdarimont) edge (mlemoine);
  \path (mgesmann) edge (tharder) edge (bmitschang) edge[bend left=15] (nritter) edge[bend right=12] (hschoning);
  \path (tharder) edge (bmitschang) edge (nritter) edge (hschoning);
  \path (bmitschang) edge (nritter) edge (hschoning);
  \path (nritter) edge (hschoning);
  \path (lbellatreche) edge (nberkani) edge (skhouri);
  \path (nberkani) edge (skhouri);
  \path (ccauvet) edge (mfakhri) edge (pramadour);
  \path (mfakhri) edge (pramadour);
  \path (zjin) edge (bwei) edge (dzowghi);
  \path (bwei) edge (dzowghi);
  \path (lbass) edge (pclements);
  \path (khe) edge (zsun) edge (jwang) edge[bend left=15] (sxiang) edge[bend right=12] (dyu);
  \path (zsun) edge (jwang) edge (sxiang) edge (dyu);
  \path (jwang) edge (sxiang) edge (dyu);
  \path (sxiang) edge (dyu);
  \end{scope}
\end{tikzpicture}
\end{document}
